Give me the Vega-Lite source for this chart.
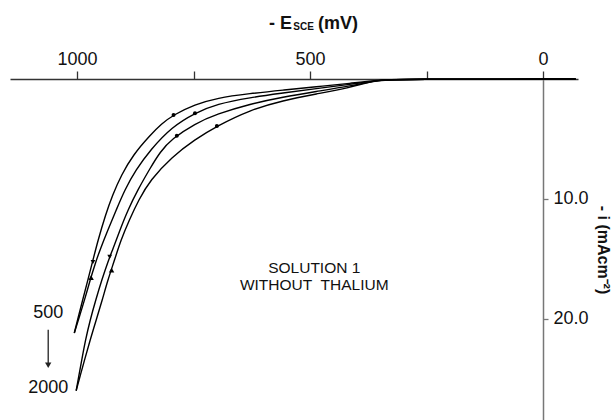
{
  "$schema": "https://vega.github.io/schema/vega-lite/v6.json",
  "width": 568,
  "height": 341,
  "autosize": {"type": "none"},
  "padding": {"left": 10, "top": 79, "right": 35, "bottom": 0},
  "background": "white",
  "config": {
    "view": {"stroke": null},
    "font": "Liberation Sans",
    "text": {"font": "Liberation Sans"}
  },
  "datasets": {
    "curves": [
      {"c": "500f", "k": 0, "E": -70, "i": 0},
      {"c": "500f", "k": 1, "E": 307, "i": 0.02},
      {"c": "500f", "k": 2, "E": 350, "i": 0.08},
      {"c": "500f", "k": 3, "E": 414, "i": 0.36},
      {"c": "500f", "k": 4, "E": 487, "i": 0.65},
      {"c": "500f", "k": 5, "E": 558, "i": 0.92},
      {"c": "500f", "k": 6, "E": 629, "i": 1.21},
      {"c": "500f", "k": 7, "E": 700, "i": 1.58},
      {"c": "500f", "k": 8, "E": 747, "i": 2.13},
      {"c": "500f", "k": 9, "E": 794, "i": 3.0},
      {"c": "500f", "k": 10, "E": 819, "i": 3.75},
      {"c": "500f", "k": 11, "E": 843, "i": 4.67},
      {"c": "500f", "k": 12, "E": 880, "i": 6.33},
      {"c": "500f", "k": 13, "E": 905, "i": 8.0},
      {"c": "500f", "k": 14, "E": 924, "i": 9.67},
      {"c": "500f", "k": 15, "E": 939, "i": 11.33},
      {"c": "500f", "k": 16, "E": 955, "i": 13.42},
      {"c": "500f", "k": 17, "E": 967, "i": 15.25},
      {"c": "500f", "k": 18, "E": 978, "i": 16.92},
      {"c": "500f", "k": 19, "E": 988, "i": 18.42},
      {"c": "500f", "k": 20, "E": 998, "i": 19.92},
      {"c": "500f", "k": 21, "E": 1006, "i": 21.17},
      {"c": "500r", "k": 0, "E": -70, "i": 0},
      {"c": "500r", "k": 1, "E": 307, "i": 0.02},
      {"c": "500r", "k": 2, "E": 350, "i": 0.08},
      {"c": "500r", "k": 3, "E": 414, "i": 0.46},
      {"c": "500r", "k": 4, "E": 487, "i": 0.79},
      {"c": "500r", "k": 5, "E": 558, "i": 1.17},
      {"c": "500r", "k": 6, "E": 629, "i": 1.54},
      {"c": "500r", "k": 7, "E": 700, "i": 2.08},
      {"c": "500r", "k": 8, "E": 747, "i": 2.83},
      {"c": "500r", "k": 9, "E": 797, "i": 4.0},
      {"c": "500r", "k": 10, "E": 843, "i": 5.92},
      {"c": "500r", "k": 11, "E": 874, "i": 7.58},
      {"c": "500r", "k": 12, "E": 898, "i": 9.25},
      {"c": "500r", "k": 13, "E": 916, "i": 10.92},
      {"c": "500r", "k": 14, "E": 934, "i": 12.58},
      {"c": "500r", "k": 15, "E": 951, "i": 14.25},
      {"c": "500r", "k": 16, "E": 960, "i": 15.25},
      {"c": "500r", "k": 17, "E": 972, "i": 16.75},
      {"c": "500r", "k": 18, "E": 984, "i": 18.42},
      {"c": "500r", "k": 19, "E": 996, "i": 19.92},
      {"c": "500r", "k": 20, "E": 1006, "i": 21.17},
      {"c": "2000f", "k": 0, "E": -70, "i": 0},
      {"c": "2000f", "k": 1, "E": 307, "i": 0.02},
      {"c": "2000f", "k": 2, "E": 350, "i": 0.08},
      {"c": "2000f", "k": 3, "E": 414, "i": 0.58},
      {"c": "2000f", "k": 4, "E": 487, "i": 1.04},
      {"c": "2000f", "k": 5, "E": 558, "i": 1.5},
      {"c": "2000f", "k": 6, "E": 629, "i": 2.08},
      {"c": "2000f", "k": 7, "E": 700, "i": 2.92},
      {"c": "2000f", "k": 8, "E": 747, "i": 3.71},
      {"c": "2000f", "k": 9, "E": 797, "i": 5.0},
      {"c": "2000f", "k": 10, "E": 822, "i": 6.08},
      {"c": "2000f", "k": 11, "E": 843, "i": 7.42},
      {"c": "2000f", "k": 12, "E": 870, "i": 9.25},
      {"c": "2000f", "k": 13, "E": 891, "i": 10.92},
      {"c": "2000f", "k": 14, "E": 908, "i": 12.58},
      {"c": "2000f", "k": 15, "E": 924, "i": 14.25},
      {"c": "2000f", "k": 16, "E": 934, "i": 15.25},
      {"c": "2000f", "k": 17, "E": 947, "i": 16.75},
      {"c": "2000f", "k": 18, "E": 960, "i": 18.42},
      {"c": "2000f", "k": 19, "E": 972, "i": 20.08},
      {"c": "2000f", "k": 20, "E": 982, "i": 21.75},
      {"c": "2000f", "k": 21, "E": 990, "i": 23.42},
      {"c": "2000f", "k": 22, "E": 996, "i": 24.67},
      {"c": "2000f", "k": 23, "E": 1002, "i": 25.98},
      {"c": "2000r", "k": 0, "E": -70, "i": 0},
      {"c": "2000r", "k": 1, "E": 307, "i": 0.02},
      {"c": "2000r", "k": 2, "E": 350, "i": 0.08},
      {"c": "2000r", "k": 3, "E": 382, "i": 0.33},
      {"c": "2000r", "k": 4, "E": 414, "i": 0.71},
      {"c": "2000r", "k": 5, "E": 487, "i": 1.25},
      {"c": "2000r", "k": 6, "E": 558, "i": 1.79},
      {"c": "2000r", "k": 7, "E": 629, "i": 2.58},
      {"c": "2000r", "k": 8, "E": 700, "i": 3.92},
      {"c": "2000r", "k": 9, "E": 747, "i": 5.04},
      {"c": "2000r", "k": 10, "E": 797, "i": 6.5},
      {"c": "2000r", "k": 11, "E": 843, "i": 8.42},
      {"c": "2000r", "k": 12, "E": 868, "i": 10.08},
      {"c": "2000r", "k": 13, "E": 888, "i": 11.75},
      {"c": "2000r", "k": 14, "E": 906, "i": 13.42},
      {"c": "2000r", "k": 15, "E": 921, "i": 15.25},
      {"c": "2000r", "k": 16, "E": 934, "i": 16.75},
      {"c": "2000r", "k": 17, "E": 946, "i": 18.42},
      {"c": "2000r", "k": 18, "E": 959, "i": 20.08},
      {"c": "2000r", "k": 19, "E": 972, "i": 21.75},
      {"c": "2000r", "k": 20, "E": 984, "i": 23.42},
      {"c": "2000r", "k": 21, "E": 993, "i": 24.67},
      {"c": "2000r", "k": 22, "E": 1002, "i": 25.98}
    ],
    "markers": [
      {"E": 793, "i": 3.0, "dir": "dot"},
      {"E": 747, "i": 2.85, "dir": "dot"},
      {"E": 786, "i": 4.72, "dir": "dot"},
      {"E": 700, "i": 3.92, "dir": "dot"},
      {"E": 966, "i": 15.25, "dir": "down"},
      {"E": 970, "i": 16.56, "dir": "up"},
      {"E": 930, "i": 14.83, "dir": "down"},
      {"E": 926, "i": 15.92, "dir": "up"}
    ],
    "one": [{"n": 1}]
  },
  "layer": [
    {
      "data": {"name": "curves"},
      "mark": {"type": "line", "color": "black", "strokeWidth": 1.4, "interpolate": "basis"},
      "encoding": {
        "x": {
          "field": "E", "type": "quantitative",
          "scale": {"domain": [-75, 1144], "reverse": true, "nice": false, "zero": false},
          "axis": {
            "orient": "top", "title": null,
            "values": [1000, 750, 500, 250, 0],
            "labelExpr": "datum.value % 500 === 0 ? format(datum.value, 'd') : ''",
            "grid": false, "domainColor": "#333", "domainWidth": 1.5,
            "tickColor": "#333", "tickWidth": 1.3, "tickSize": 8,
            "labelFontSize": 18, "labelColor": "#111", "labelPadding": 3,
            "labelFont": "Liberation Sans"
          }
        },
        "y": {
          "field": "i", "type": "quantitative",
          "scale": {"domain": [0, 28.42], "reverse": true, "nice": false, "zero": false},
          "axis": {
            "orient": "right", "offset": -35,
            "title": "- i (mAcm⁻²)",
            "values": [10, 20], "format": ".1f",
            "grid": false, "domainColor": "#777", "domainWidth": 1.5,
            "tickColor": "#777", "tickWidth": 1.3, "tickSize": 5,
            "labelFontSize": 18, "labelColor": "#111", "labelPadding": 5,
            "labelFont": "Liberation Sans",
            "titleFont": "Liberation Sans", "titleFontSize": 16, "titleFontWeight": "bold",
            "titleColor": "#111", "titlePadding": 6
          }
        },
        "detail": {"field": "c", "type": "nominal"},
        "order": {"field": "k", "type": "quantitative"}
      }
    },
    {
      "data": {"name": "markers"},
      "mark": {"type": "point", "filled": true, "color": "black", "opacity": 1},
      "encoding": {
        "x": {"field": "E", "type": "quantitative"},
        "y": {"field": "i", "type": "quantitative"},
        "shape": {"field": "dir", "type": "nominal", "legend": null,
          "scale": {"domain": ["dot", "down", "up"], "range": ["circle", "triangle-down", "triangle-up"]}},
        "size": {"field": "dir", "type": "nominal", "legend": null,
          "scale": {"domain": ["dot", "down", "up"], "range": [16, 30, 30]}}
      }
    },
    {
      "data": {"name": "one"},
      "mark": {"type": "text", "fontSize": 18, "fontWeight": "bold", "align": "right", "baseline": "alphabetic", "color": "#111"},
      "encoding": {"x": {"datum": 538.6}, "y": {"datum": -4.17}, "text": {"value": "- E"}}
    },
    {
      "data": {"name": "one"},
      "mark": {"type": "text", "fontSize": 10, "fontWeight": "bold", "align": "left", "baseline": "alphabetic", "color": "#111"},
      "encoding": {"x": {"datum": 536}, "y": {"datum": -4.08}, "text": {"value": "SCE"}}
    },
    {
      "data": {"name": "one"},
      "mark": {"type": "text", "fontSize": 18, "fontWeight": "bold", "align": "left", "baseline": "alphabetic", "color": "#111"},
      "encoding": {"x": {"datum": 483}, "y": {"datum": -4.17}, "text": {"value": "(mV)"}}
    },
    {
      "data": {"name": "one"},
      "mark": {"type": "text", "fontSize": 15.5, "align": "center", "baseline": "middle", "lineHeight": 17, "color": "#111"},
      "encoding": {"x": {"datum": 491}, "y": {"datum": 15.75}, "text": {"value": ["SOLUTION 1", "WITHOUT\u00a0 THALIUM"]}}
    },
    {
      "data": {"name": "one"},
      "mark": {"type": "text", "fontSize": 18, "align": "center", "baseline": "middle", "color": "#111"},
      "encoding": {"x": {"datum": 1062}, "y": {"datum": 19.5}, "text": {"value": "500"}}
    },
    {
      "data": {"name": "one"},
      "mark": {"type": "text", "fontSize": 18, "align": "center", "baseline": "middle", "color": "#111"},
      "encoding": {"x": {"datum": 1062}, "y": {"datum": 25.75}, "text": {"value": "2000"}}
    },
    {
      "data": {"name": "one"},
      "mark": {"type": "rule", "color": "#222", "strokeWidth": 1.3},
      "encoding": {"x": {"datum": 1062}, "y": {"datum": 20.9}, "y2": {"datum": 23.8}}
    },
    {
      "data": {"name": "one"},
      "mark": {"type": "point", "shape": "triangle-down", "filled": true, "color": "#222", "size": 40, "opacity": 1},
      "encoding": {"x": {"datum": 1062}, "y": {"datum": 23.85}}
    }
  ]
}
